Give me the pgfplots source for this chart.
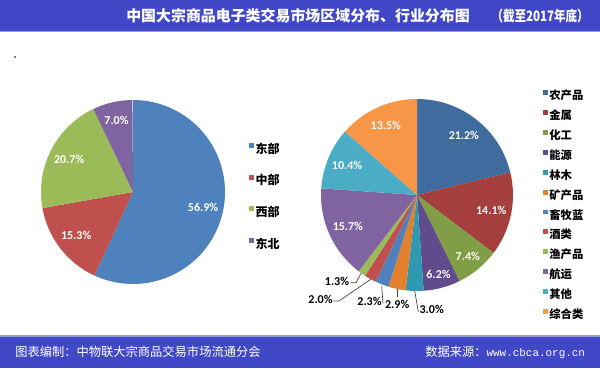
\documentclass[border=0pt]{standalone}
\usepackage{pgfplots}
\usepackage{pgfplotstable}
\pgfplotsset{compat=1.18}
\usepackage{fontspec}
\setmainfont{Carlito}
\newfontfamily\cjk{Noto Sans CJK SC}
\newfontfamily\mono{Liberation Mono}

\definecolor{banner}{RGB}{64,72,200}
\definecolor{bannerlight}{RGB}{150,156,225}
\definecolor{cA}{HTML}{4F81BD}
\definecolor{cB}{HTML}{C0504D}
\definecolor{cC}{HTML}{9BBB59}
\definecolor{cD}{HTML}{8064A2}
\definecolor{r1}{HTML}{3F6B9F}
\definecolor{r2}{HTML}{A43F3D}
\definecolor{r3}{HTML}{809E45}
\definecolor{r4}{HTML}{604B8C}
\definecolor{r5}{HTML}{3099B2}
\definecolor{r6}{HTML}{E3802D}
\definecolor{r7}{HTML}{4F81BD}
\definecolor{r8}{HTML}{C0504D}
\definecolor{r9}{HTML}{9BBB59}
\definecolor{r10}{HTML}{8064A2}
\definecolor{r11}{HTML}{4BACC6}
\definecolor{r12}{HTML}{F79646}

% region shares (%)
\pgfplotstableread{
pct col lr
56.9 cA 0.78
15.3 cB 0.78
20.7 cC 0.78
7.0 cD 0.80
}\leftdata

% industry shares (%)
\pgfplotstableread{
pct col lr
21.2 r1 0.79
14.1 r2 0.79
7.4 r3 0.83
6.2 r4 0.86
3.0 r5 0
2.9 r6 0
2.3 r7 0
2.0 r8 0
1.3 r9 0
15.7 r10 0.79
10.4 r11 0.79
13.5 r12 0.79
}\rightdata

\newcommand\drawpie[1]{%
  \gdef\cumv{0}%
  \pgfplotstablegetrowsof{#1}%
  \pgfmathtruncatemacro\nrows{\pgfplotsretval-1}%
  \foreach \i in {0,...,\nrows}{%
    \pgfplotstablegetelem{\i}{pct}\of#1\let\sval\pgfplotsretval
    \pgfplotstablegetelem{\i}{col}\of#1\let\scol\pgfplotsretval
    \pgfplotstablegetelem{\i}{lr}\of#1\let\slr\pgfplotsretval
    \pgfmathsetmacro\sa{90-3.6*\cumv}%
    \pgfmathsetmacro\sb{90-3.6*(\cumv+\sval)}%
    \pgfmathsetmacro\sm{(\sa+\sb)/2}%
    \fill[\scol] (axis cs:0,0) -- (axis cs:{cos(\sa)},{sin(\sa)}) arc[start angle=\sa,end angle=\sb,radius=1] -- cycle;
    \ifdim\slr pt>0pt
      \node[white,font=\bfseries\fontsize{9}{9}\selectfont] at (axis cs:{\slr*cos(\sm)},{\slr*sin(\sm)}) {\pgfmathprintnumber[fixed,fixed zerofill,precision=1,assume math mode=true]{\sval}\%};
    \fi
    \pgfmathsetmacro\newcum{\cumv+\sval}%
    \xdef\cumv{\newcum}%
  }%
}

\begin{document}
\begin{tikzpicture}
\useasboundingbox (0,0) rectangle (450pt,276pt);
\fill[white] (0,0) rectangle (450pt,276pt);

\begin{scope}[x=0.75pt,y=-0.75pt,shift={(0pt,276pt)}]
  \fill[banner] (0,0) rectangle (600,31);
  \fill[bannerlight] (0,31) rectangle (600,32.5);
  \fill[bannerlight] (0,335) rectangle (600,336.7);
  \fill[banner] (0,336.7) rectangle (600,368);
  \node[anchor=west,white,font=\cjk\bfseries\fontsize{11.2}{12}\selectfont,inner sep=0pt] at (126,16) {中国大宗商品电子类交易市场区域分布、行业分布图};
  \node[anchor=east,white,font=\cjk\bfseries\fontsize{10.8}{12}\selectfont,inner sep=0pt] at (589,16) {\scalebox{0.8}[1]{（截至2017年底）}};
  \node[anchor=west,white,font=\cjk\fontsize{9.2}{10}\selectfont,inner sep=0pt] at (15,352) {图表编制：中物联大宗商品交易市场流通分会};
  \node[anchor=west,white,font=\cjk\fontsize{9.2}{10}\selectfont,inner sep=0pt] at (425,352) {数据来源：{\mono\fontsize{8.2}{10}\selectfont www.cbca.org.cn}};
  \fill[gray] (14.3,56.3) rectangle (15.7,57.7);
  % leader lines for small slices
  \draw[black!75,line width=0.5pt] (414.7,290.7) -- (418.3,311.7);
  \draw[black!75,line width=0.5pt] (397.3,289.3) -- (397.3,296.7);
  \draw[black!75,line width=0.5pt] (381.7,286) -- (383,303.3);
  \draw[black!75,line width=0.5pt] (370.7,279.3) -- (339,301) -- (333.3,301);
  \draw[black!75,line width=0.5pt] (361,273.3) -- (356,282.7) -- (350.7,282.7);
  \begin{scope}[every node/.style={font=\bfseries\fontsize{9}{9}\selectfont,inner sep=0pt}]
  \node at (431.7,309.7) {3.0\%};
  \node at (397.2,304.2) {2.9\%};
  \node at (369.5,301.5) {2.3\%};
  \node at (320.5,299.2) {2.0\%};
  \node at (337,281.2) {1.3\%};
  \end{scope}
\end{scope}

\begin{axis}[at={(99.75pt,132pt)},anchor=center,scale only axis,
  width=138pt,height=138pt,xmin=-1,xmax=1,ymin=-1,ymax=1,hide axis,clip=false,
  legend image code/.code={\fill[#1] (0pt,1.2pt) rectangle (3.8pt,5pt);},
  legend cell align=left,
  legend style={draw=none,fill=none,inner sep=0pt,at={(1.13,0.77)},anchor=north west,
    font=\cjk\bfseries\fontsize{9}{9}\selectfont,/tikz/row sep=13.2pt,
    nodes={inner sep=1pt,text height=7pt,text depth=1.5pt}}]
  \pgfplotsextra{\drawpie{\leftdata}}
  \addlegendimage{fill=cA,draw=none}\addlegendentry{东部}
  \addlegendimage{fill=cB,draw=none}\addlegendentry{中部}
  \addlegendimage{fill=cC,draw=none}\addlegendentry{西部}
  \addlegendimage{fill=cD,draw=none}\addlegendentry{东北}
\end{axis}

\begin{axis}[at={(312.75pt,129.75pt)},anchor=center,scale only axis,
  width=144pt,height=144pt,xmin=-1,xmax=1,ymin=-1,ymax=1,hide axis,clip=false,
  legend image code/.code={\fill[#1] (0pt,1pt) rectangle (3.6pt,4.6pt);},
  legend cell align=left,
  legend style={draw=none,fill=none,inner sep=0pt,at={(1.156,1.049)},anchor=north west,
    font=\cjk\bfseries\fontsize{8.5}{8.5}\selectfont,/tikz/row sep=4.9pt,
    nodes={inner sep=1pt,text height=6.5pt,text depth=1.5pt}}]
  \pgfplotsextra{\drawpie{\rightdata}}
  \addlegendimage{fill=r1,draw=none}\addlegendentry{农产品}
  \addlegendimage{fill=r2,draw=none}\addlegendentry{金属}
  \addlegendimage{fill=r3,draw=none}\addlegendentry{化工}
  \addlegendimage{fill=r4,draw=none}\addlegendentry{能源}
  \addlegendimage{fill=r5,draw=none}\addlegendentry{林木}
  \addlegendimage{fill=r6,draw=none}\addlegendentry{矿产品}
  \addlegendimage{fill=r7,draw=none}\addlegendentry{畜牧蓝}
  \addlegendimage{fill=r8,draw=none}\addlegendentry{酒类}
  \addlegendimage{fill=r9,draw=none}\addlegendentry{渔产品}
  \addlegendimage{fill=r10,draw=none}\addlegendentry{航运}
  \addlegendimage{fill=r11,draw=none}\addlegendentry{其他}
  \addlegendimage{fill=r12,draw=none}\addlegendentry{综合类}
\end{axis}
\end{tikzpicture}
\end{document}
